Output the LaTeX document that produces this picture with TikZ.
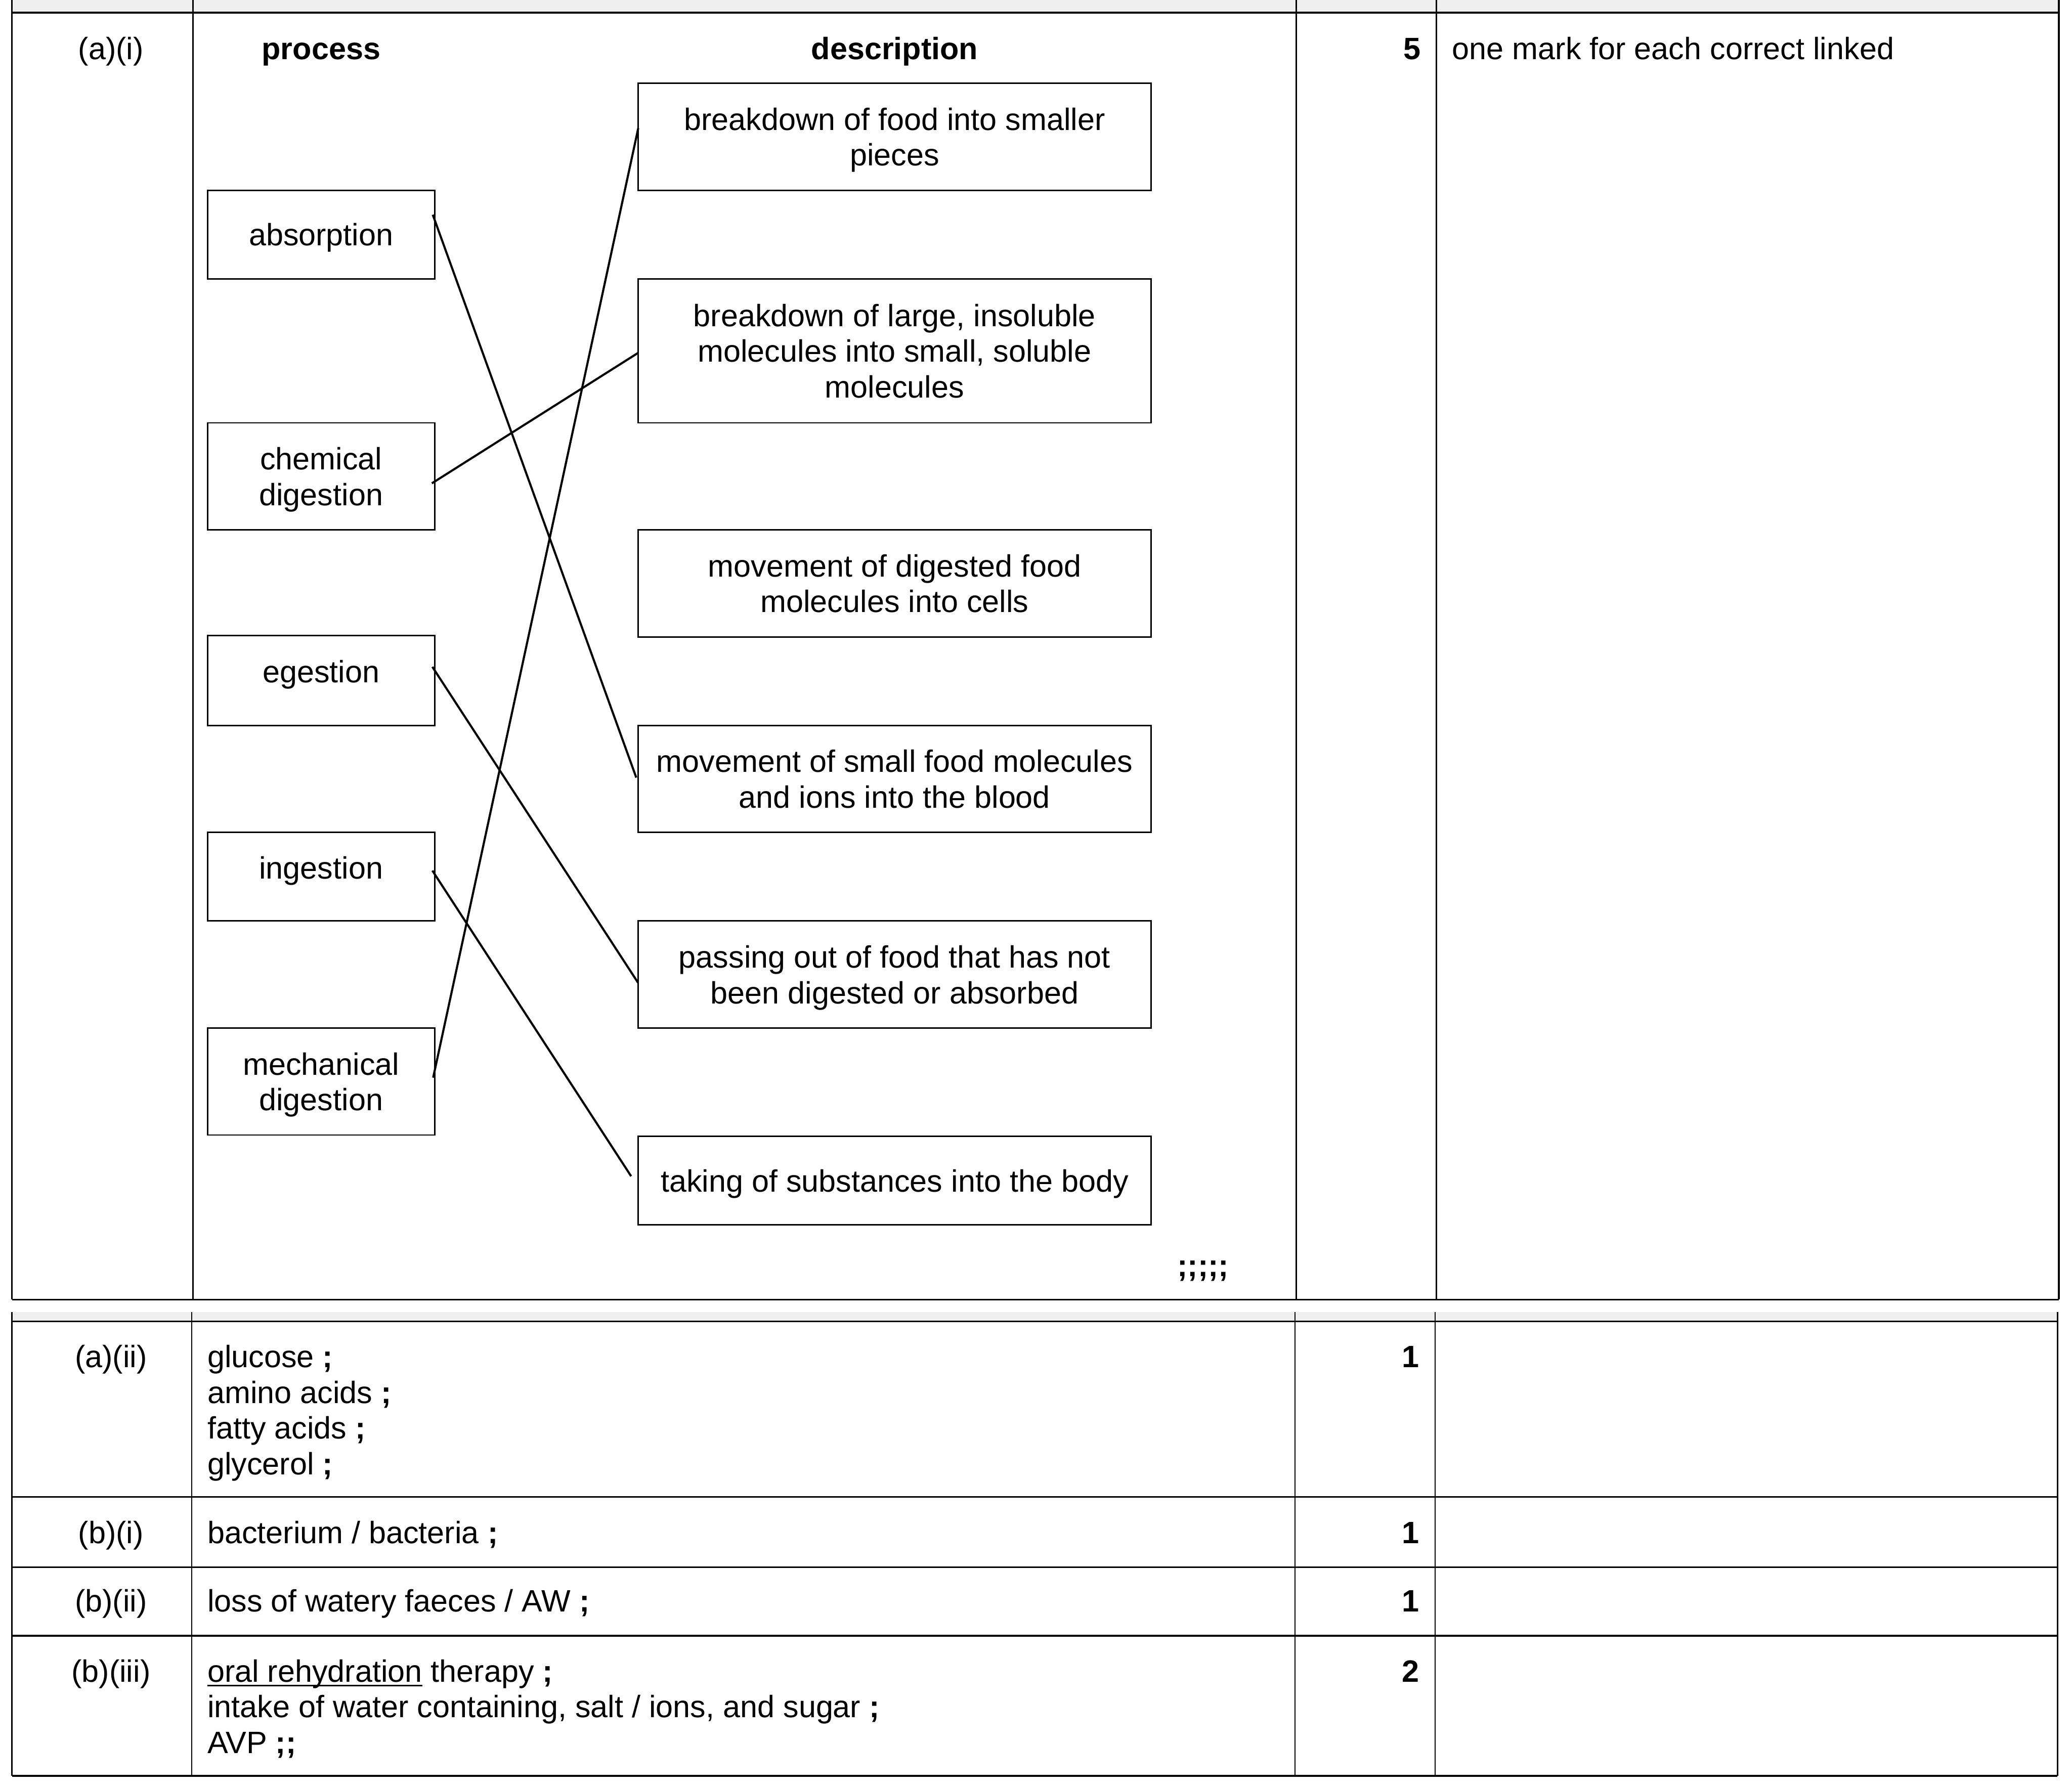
\documentclass[tikz,border=0pt]{standalone}
\usepackage{fontspec}
\setmainfont{Liberation Sans}
\definecolor{bandgrey}{HTML}{EFEFEF}
\newcommand\ulfix[1]{\setbox0\hbox{#1}\rlap{\rule[-1.6pt]{\wd0}{0.6pt}}\box0\relax}
\newcommand\bsemi{\textbf{;}}
\newcommand\lines[1]{\begin{tabular}[t]{@{}c@{}}#1\end{tabular}}
\tikzset{
  thickrule/.style={line width=0.6pt},
  thinrule/.style={line width=0.45pt},
  txt/.style={anchor=base west},
  ctxt/.style={anchor=base},
  rtxt/.style={anchor=base east},
  procbox/.style={draw, line width=0.5pt, minimum width=80.84pt},
  descbox/.style={draw, line width=0.5pt, minimum width=182.36pt},
  oneline/.style={text height=8.88pt, text depth=0.88pt},
  twoline/.style={text height=8.88pt, text depth=13.57pt},
  threeline/.style={text height=8.88pt, text depth=26.26pt},
  topline/.style={text height=8.88pt, text depth=7.4pt},
  link/.style={line width=0.75pt}
}
\begin{document}
\begin{tikzpicture}[x=0.47pt,y=-0.47pt,
  every node/.style={font=\fontsize{11}{12.69}\selectfont, inner sep=0pt, outer sep=0pt}]
\useasboundingbox (0,0) rectangle (1568,1353);
% ---------- top table ----------
\fill[bandgrey] (9,0) rectangle (1558,9.5);
\draw[thinrule] (146,0) -- (146,983.5);
\draw[thinrule] (981,0) -- (981,983.5);
\draw[thinrule] (1087,0) -- (1087,983.5);
\draw[thickrule] (9,0) -- (9,983.5);
\draw[thickrule] (1558,0) -- (1558,983.5);
\draw[thickrule] (9,9.5) -- (1558,9.5);
\draw[thickrule] (9,983.5) -- (1558,983.5);

\node[ctxt] (lab1) at (84,45) {(a)(i)};
\node[ctxt] (hproc) at (243,45) {\textbf{process}};
\node[ctxt] (hdesc) at (677,45) {\textbf{description}};
\node[rtxt] (m1) at (1075,45) {\textbf{5}};
\node[txt] (g1) at (1099,45) {one mark for each correct linked};

% process boxes
\node[procbox, oneline, minimum height=31.49pt] (abs) at (243,177.5) {\lines{absorption}};
\node[procbox, twoline, minimum height=38.07pt] (chem) at (243,360.5) {\lines{chemical\\digestion}};
\node[procbox, topline, minimum height=31.96pt] (eges) at (243,515) {\lines{egestion}};
\node[procbox, topline, minimum height=31.49pt] (inge) at (243,663.5) {\lines{ingestion}};
\node[procbox, twoline, minimum height=38.07pt] (mech) at (243,818.5) {\lines{mechanical\\digestion}};

% description boxes
\node[descbox, twoline, minimum height=38.07pt] (d1) at (677,103.5) {\lines{breakdown of food into smaller\\pieces}};
\node[descbox, threeline, minimum height=51.23pt] (d2) at (677,265.5) {\lines{breakdown of large, insoluble\\molecules into small, soluble\\molecules}};
\node[descbox, twoline, minimum height=38.07pt] (d3) at (677,441.5) {\lines{movement of digested food\\molecules into cells}};
\node[descbox, twoline, minimum height=38.07pt] (d4) at (677,589.5) {\lines{movement of small food molecules\\and ions into the blood}};
\node[descbox, twoline, minimum height=38.07pt] (d5) at (677,737.5) {\lines{passing out of food that has not\\been digested or absorbed}};
\node[descbox, oneline, minimum height=31.49pt] (d6) at (677,893.5) {\lines{taking of substances into the body}};

% links
\draw[link] ([shift={(-1.5,-15)}]abs.east) -- ([shift={(-1.5,-1)}]d4.west);
\draw[link] ([shift={(-2.2,5.3)}]chem.east) -- ([shift={(0,1.5)}]d2.west);
\draw[link] ([shift={(-1.8,-10.3)}]eges.east) -- ([shift={(-0.2,6.2)}]d5.west);
\draw[link] ([shift={(-1.8,-4.6)}]inge.east) -- ([shift={(-5.4,-3.3)}]d6.west);
\draw[link] ([shift={(-1.2,-2.9)}]mech.east) -- ([shift={(0,-6.5)}]d1.west);

\node[txt] (semis) at (891,966) {\bsemi\bsemi\bsemi\bsemi\bsemi};

% ---------- second table ----------
\fill[bandgrey] (9,993) rectangle (1557,1000);
\draw[thinrule] (145,993) -- (145,1344);
\draw[thinrule] (980,993) -- (980,1344);
\draw[thinrule] (1086,993) -- (1086,1344);
\draw[thickrule] (9,993) -- (9,1344);
\draw[thickrule] (1557,993) -- (1557,1344);
\draw[thickrule] (9,1000) -- (1557,1000);
\draw[thickrule] (9,1133) -- (1557,1133);
\draw[thickrule] (9,1186) -- (1557,1186);
\draw[thickrule] (9,1238) -- (1557,1238);
\draw[thickrule] (9,1344) -- (1557,1344);

% row a(ii)
\node[ctxt] (lab2) at (84,1035) {(a)(ii)};
\node[txt] (a2l1) at (157,1035) {glucose \bsemi};
\node[txt] (a2l2) at (157,1062) {amino acids \bsemi};
\node[txt] (a2l3) at (157,1089) {fatty acids \bsemi};
\node[txt] (a2l4) at (157,1116) {glycerol \bsemi};
\node[rtxt] (m2) at (1074,1035) {\textbf{1}};

% row b(i)
\node[ctxt] (lab3) at (84,1168) {(b)(i)};
\node[txt] (b1l1) at (157,1168) {bacterium / bacteria \bsemi};
\node[rtxt] (m3) at (1074,1168) {\textbf{1}};

% row b(ii)
\node[ctxt] (lab4) at (84,1220) {(b)(ii)};
\node[txt] (b2l1) at (157,1220) {loss of watery faeces / AW \bsemi};
\node[rtxt] (m4) at (1074,1220) {\textbf{1}};

% row b(iii)
\node[ctxt] (lab5) at (84,1273) {(b)(iii)};
\node[txt] (b3l1) at (157,1273) {\ulfix{oral rehydration} therapy \bsemi};
\node[txt] (b3l2) at (157,1300) {intake of water containing, salt / ions, and sugar \bsemi};
\node[txt] (b3l3) at (157,1327) {AVP \bsemi\bsemi};
\node[rtxt] (m5) at (1074,1273) {\textbf{2}};
\end{tikzpicture}
\end{document}
